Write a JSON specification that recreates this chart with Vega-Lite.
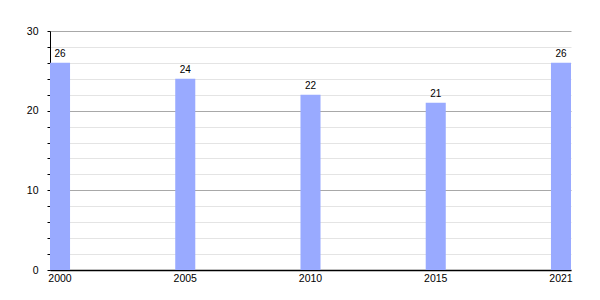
{
  "$schema": "https://vega.github.io/schema/vega-lite/v6.json",
  "width": 521,
  "height": 239,
  "autosize": "none",
  "padding": {"left": 50, "top": 31, "right": 29, "bottom": 30},
  "background": "white",
  "config": {
    "view": {"stroke": null},
    "font": "Liberation Sans",
    "axis": {"labelFont": "Liberation Sans", "labelColor": "#000", "labelFontSize": 10.5}
  },
  "data": {
    "values": [
      {"year": "2000", "value": 26},
      {"year": "2005", "value": 24},
      {"year": "2010", "value": 22},
      {"year": "2015", "value": 21},
      {"year": "2021", "value": 26}
    ]
  },
  "encoding": {
    "x": {
      "field": "year",
      "type": "ordinal",
      "scale": {"paddingInner": 0.84, "paddingOuter": 0},
      "axis": {
        "title": null,
        "labelAngle": 0,
        "ticks": false,
        "labelPadding": 3,
        "domainColor": "#000",
        "domainWidth": 1.5,
        "grid": false
      }
    },
    "y": {
      "field": "value",
      "type": "quantitative",
      "scale": {"domain": [0, 30], "nice": false},
      "axis": {
        "title": null,
        "values": [0, 2, 4, 6, 8, 10, 12, 14, 16, 18, 20, 22, 24, 26, 28, 30],
        "labelExpr": "datum.value % 10 === 0 ? datum.label : ''",
        "grid": true,
        "gridColor": {"condition": {"test": "datum.value % 10 === 0", "value": "#a8a8a8"}, "value": "#e4e4e4"},
        "tickColor": "#000",
        "tickSize": 3,
        "labelPadding": 9,
        "domainColor": "#000",
        "domainWidth": 1
      }
    }
  },
  "layer": [
    {"mark": {"type": "bar", "color": "#99aaff"}},
    {
      "mark": {"type": "text", "baseline": "bottom", "dy": -4, "fontSize": 10, "color": "#000"},
      "encoding": {"text": {"field": "value", "type": "quantitative"}}
    }
  ]
}
